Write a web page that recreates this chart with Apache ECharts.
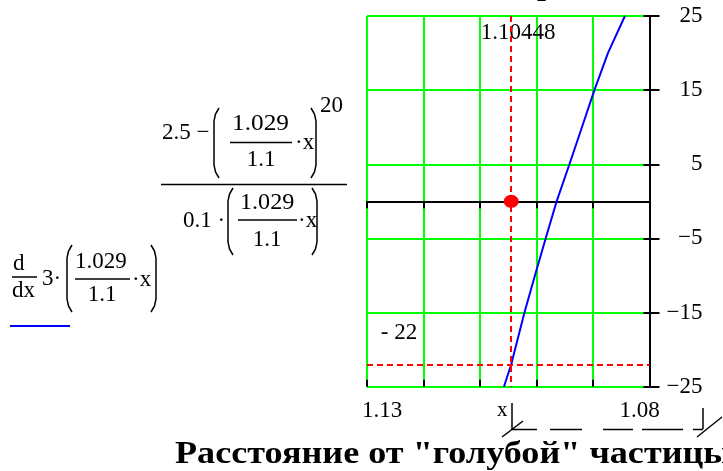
<!DOCTYPE html>
<html>
<head>
<meta charset="utf-8">
<script src="https://cdn.jsdelivr.net/npm/echarts@6/dist/echarts.min.js"></script>
<style>
  html, body { margin: 0; padding: 0; background: #ffffff; }
  #chart { width: 723px; height: 471px; }
</style>
</head>
<body>
<div id="chart"></div>
<script>
// Axis ticks (x runs from 1.13 on the left down to 1.08 on the right)
const xTicks = [1.08, 1.09, 1.10, 1.11, 1.12, 1.13];
const xEndLabels = ['1.13', '1.08'];
const yTicks = [-25, -15, -5, 5, 15, 25];

// Trace of the derivative expression
const traceX = [1.10576, 1.10448, 1.10213, 1.10028, 1.09838, 1.09644, 1.09417, 1.09196, 1.08975, 1.08736, 1.08435];
const traceY = [-25, -22, -15, -10, -5, 0, 5, 10, 15, 20, 25];

// Trace marker and the root point on the zero line
const markerX = 1.10448;
const markerY = -22;
const rootY = 0;

const SERIF = '"Liberation Serif", "Times New Roman", serif';
const MATH = 23;

const xStep = Math.round((xTicks[1] - xTicks[0]) * 1000) / 1000;
const yStep = yTicks[1] - yTicks[0];
const xMin = xTicks[0], xMax = xTicks[xTicks.length - 1];
const yMin = yTicks[0], yMax = yTicks[yTicks.length - 1];

// ---------- formula drawing helpers ----------
function txt(s, x, y, opts) {
  opts = opts || {};
  return {
    type: 'text', x: x, y: y, z: 10,
    scaleX: opts.scaleX || 1,
    style: {
      text: s,
      font: (opts.weight || 'normal') + ' ' + (opts.size || MATH) + 'px ' + SERIF,
      fill: '#000',
      textAlign: opts.align || 'left',
      textVerticalAlign: opts.valign || 'middle'
    }
  };
}
function bar(x1, x2, y, w) {
  return { type: 'line', z: 10, shape: { x1: x1, y1: y, x2: x2, y2: y },
           style: { stroke: '#000', lineWidth: w || 1.5 } };
}
function seg(x1, y1, x2, y2) {
  return { type: 'line', z: 10, shape: { x1: x1, y1: y1, x2: x2, y2: y2 },
           style: { stroke: '#000', lineWidth: 1.5 } };
}
// tall bracket; side = 1 for "(", -1 for ")"
function paren(x, y0, y1, side) {
  const w = 5 * side;
  const pts = side > 0
    ? [[x + w, y0], [x + 1.5, y0 + 6], [x, y0 + 13], [x, y1 - 13], [x + 1.5, y1 - 6], [x + w, y1]]
    : [[x + w, y0], [x - 1.5, y0 + 6], [x, y0 + 13], [x, y1 - 13], [x - 1.5, y1 - 6], [x + w, y1]];
  return { type: 'polyline', z: 10, shape: { points: pts },
           style: { stroke: '#000', lineWidth: 1.5, fill: null } };
}

const formula = [
  // (2.5 − (1.029/1.1·x)^20) / (0.1·(1.029/1.1·x))
  txt('2.5 \u2212', 162, 133),
  paren(214, 108, 178, 1),
  txt('1.029', 232, 124, { scaleX: 1.1 }),
  bar(230, 292, 142.5),
  txt('1.1', 261, 160, { align: 'center' }),
  txt('\u00b7x', 295, 143),
  paren(316, 108, 178, -1),
  txt('20', 320, 106),
  bar(161, 347, 184.5),
  txt('0.1 \u00b7', 183, 221),
  paren(228, 188, 255, 1),
  txt('1.029', 240, 203, { scaleX: 1.05 }),
  bar(238, 297, 220),
  txt('1.1', 267, 240, { align: 'center' }),
  txt('\u00b7x', 298, 221),
  paren(317, 188, 255, -1),

  // d/dx 3·(1.029/1.1·x)
  txt('d', 13, 264),
  bar(12, 37, 277),
  txt('dx', 12, 291),
  txt('3\u00b7', 42, 279),
  paren(67, 245, 312, 1),
  txt('1.029', 75, 262),
  bar(75, 130, 279),
  txt('1.1', 102, 295, { align: 'center' }),
  txt('\u00b7x', 132, 280),
  paren(156, 245, 312, -1),

  // x-range placeholder marks under the plot
  txt('x', 497, 410, { size: 21 }),
  seg(512, 403, 512, 429),
  seg(502, 437, 523, 421),
  seg(512, 429.5, 537, 429.5),
  seg(550, 429.5, 582, 429.5),
  seg(603, 429.5, 633, 429.5),
  seg(642, 429.5, 683, 429.5),
  seg(693, 429.5, 703, 429.5),
  seg(703, 408, 703, 429),
  seg(697, 437, 722, 417),

  // caption
  txt('Расстояние от "голубой" частицы', 175, 455, { size: 32, weight: 'bold', scaleX: 1.13 }),
  // descender of the title line above the plot
  txt('р', 537, -14, { size: 32, weight: 'bold' })
];

const chart = echarts.init(document.getElementById('chart'), null, { renderer: 'canvas' });

const xBase = {
  type: 'value', inverse: true,
  min: xMin, max: xMax, interval: xStep,
  position: 'bottom'
};
const yBase = {
  type: 'value', position: 'right',
  min: yMin, max: yMax, interval: yStep
};

chart.setOption({
  animation: false,
  backgroundColor: '#ffffff',
  grid: { left: 367, right: 73.5, top: 16, bottom: 84.3, containLabel: false },
  legend: {
    data: ['trace'], left: 10, top: 325, padding: 0,
    itemWidth: 60, itemHeight: 2, icon: 'rect',
    formatter: () => '', selectedMode: false
  },
  xAxis: [
    Object.assign({}, xBase, {
      axisLine: { show: false }, axisTick: { show: false },
      splitLine: { show: true, showMinLine: true, showMaxLine: true, lineStyle: { color: '#00ff00', width: 2 } },
      axisLabel: {
        margin: 13, color: '#000', fontFamily: SERIF, fontSize: MATH,
        showMinLabel: true, showMaxLabel: true,
        formatter: function (v) {
          const s = v.toFixed(2);
          if (s === xEndLabels[0]) return '{l|' + s + '}';
          if (s === xEndLabels[1]) return '{r|' + s + '}';
          return '';
        },
        rich: {
          l: { padding: [0, 0, 0, 30], fontFamily: SERIF, fontSize: MATH, color: '#000' },
          r: { padding: [0, 20, 0, 0], fontFamily: SERIF, fontSize: MATH, color: '#000' }
        }
      }
    }),
    // zero line with ticks crossing it
    Object.assign({}, xBase, {
      axisLine: { show: true, onZero: true, lineStyle: { color: '#000', width: 2 } },
      axisTick: { show: true, inside: false, length: 7, lineStyle: { color: '#000', width: 2 } },
      axisLabel: { show: false }, splitLine: { show: false }
    }),
    Object.assign({}, xBase, {
      axisLine: { show: false, onZero: true },
      axisTick: { show: true, inside: true, length: 7, lineStyle: { color: '#000', width: 2 } },
      axisLabel: { show: false }, splitLine: { show: false }
    })
  ],
  yAxis: [
    Object.assign({}, yBase, {
      axisLine: { show: true, onZero: false, lineStyle: { color: '#000', width: 2 } },
      axisTick: { show: true, inside: false, length: 10, lineStyle: { color: '#000', width: 2 } },
      splitLine: { show: true, showMinLine: true, showMaxLine: true, lineStyle: { color: '#00ff00', width: 2 } },
      axisLabel: {
        margin: 53, align: 'right', color: '#000', fontFamily: SERIF, fontSize: MATH,
        formatter: v => (v < 0 ? '\u2212' + (-v) : String(v))
      }
    }),
    Object.assign({}, yBase, {
      axisLine: { show: false, onZero: false },
      axisTick: { show: true, inside: true, length: 6, lineStyle: { color: '#000', width: 2 } },
      splitLine: { show: false }, axisLabel: { show: false }
    })
  ],
  series: [
    {
      name: 'trace', type: 'line', xAxisIndex: 0, yAxisIndex: 0,
      data: traceX.map((x, i) => [x, traceY[i]]),
      showSymbol: false, symbol: 'none', clip: true, z: 4,
      color: '#0000ff',
      lineStyle: { color: '#0000ff', width: 2 }
    },
    {
      name: 'marker', type: 'scatter', xAxisIndex: 0, yAxisIndex: 0, z: 3,
      symbolSize: 1, itemStyle: { color: 'rgba(0,0,0,0)', opacity: 1 },
      label: { show: true, color: '#000', opacity: 1, fontFamily: SERIF, fontSize: MATH },
      data: [
        { value: [markerX, yMax],
          label: { position: 'bottom', distance: 5, offset: [7, 0], formatter: p => String(p.value[0]) } },
        { value: [xMax, markerY],
          label: { position: 'top', distance: 20, offset: [32, 0], formatter: p => '- ' + Math.abs(p.value[1]) } }
      ],
      markLine: {
        silent: true, precision: 6, symbol: ['none', 'none'], label: { show: false },
        lineStyle: { color: '#ff0000', type: [6, 4], width: 2, opacity: 1 },
        data: [
          [{ coord: [markerX, yMax] }, { coord: [markerX, yMin] }],
          [{ coord: [xMax, markerY] }, { coord: [xMin, markerY] }]
        ]
      }
    },
    {
      name: 'root', type: 'scatter', xAxisIndex: 0, yAxisIndex: 0, z: 5,
      symbol: 'circle', symbolSize: [15, 13],
      itemStyle: { color: '#ff0000', opacity: 1 },
      data: [[markerX, rootY]]
    }
  ],
  graphic: formula
});
</script>
</body>
</html>
